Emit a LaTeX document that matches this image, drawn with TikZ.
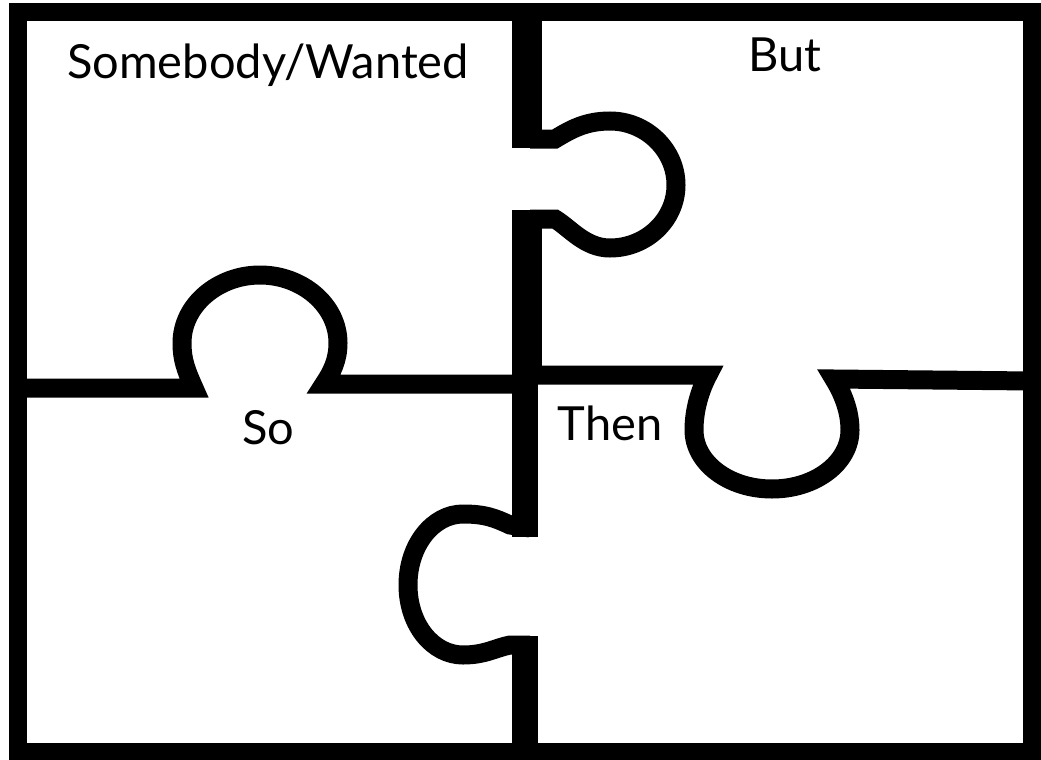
\documentclass[tikz,border=0pt]{standalone}
\usepackage{fontspec}
\setmainfont{Lato}
\usepackage{tikz}
\usetikzlibrary{positioning}
\definecolor{pzInk}{HTML}{000000}
\tikzset{
  % Seams between the pieces: one thick black pen.
  pz/seam/.style={draw=pzInk, line width=19pt, line cap=butt},
  pz/spine/.style={pz/seam, line width=30pt},
  pz/frame/.style={draw=pzInk, line width=18pt},
  % Piece captions.
  pz/title/.style={font=\fontsize{47}{55}\selectfont, text=black, inner sep=0pt},
}

\begin{document}
\begin{tikzpicture}[x=1pt,y=-1pt]
  \useasboundingbox[fill=white] (0,0) rectangle (1041,760);

  \draw[pz/frame] (18,12) rectangle (1032,752);

  % vertical seam, upper half, tab to the right
  \draw[pz/spine] (527,12) -- (527,148);
  \draw[pz/spine] (527,210) -- (527,384);
  \draw[pz/seam] (530,139) -- (555,139)
    .. controls (570,130) and (585,121) .. (610,121)
    .. controls (646,121) and (676,150) .. (676,185)
    .. controls (676,220) and (646,248) .. (610,248)
    .. controls (585,248) and (570,228) .. (555,219) -- (530,219);

  % vertical seam, lower half, tab to the left
  \draw[pz/spine, line width=26pt] (525,380) -- (525,537);
  \draw[pz/spine, line width=26pt] (525,636) -- (525,752);
  \draw[pz/seam] (530,528) -- (510,525)
    .. controls (495,518) and (485,514) .. (463,514)
    .. controls (433,514) and (408,545) .. (408,585)
    .. controls (408,625) and (433,655) .. (463,655)
    .. controls (485,655) and (495,648) .. (510,645) -- (530,645);

  % left seam, dome up
  \draw[pz/seam] (18,388) -- (194,388)
    .. controls (186,370) and (182,360) .. (182,343)
    .. controls (182,305) and (218,275) .. (260,275)
    .. controls (302,275) and (338,305) .. (338,343)
    .. controls (338,360) and (332,372) .. (324,384) -- (527,384);

  % right seam, cup down
  \draw[pz/seam] (527,375) -- (708,375)
    .. controls (700,390) and (694,410) .. (694,430)
    .. controls (694,463) and (729,489) .. (772,489)
    .. controls (815,489) and (850,463) .. (850,430)
    .. controls (850,410) and (842,392) .. (834,379) -- (1032,381);

  \node[pz/title] (sw)   at (268,65)  {Somebody/Wanted};
  \node[pz/title] (but)  at (785,55)  {But};
  \node[pz/title] (so)   at (268,428) {So};
  \node[pz/title] (then) at (610,423) {Then};
\end{tikzpicture}
\end{document}
